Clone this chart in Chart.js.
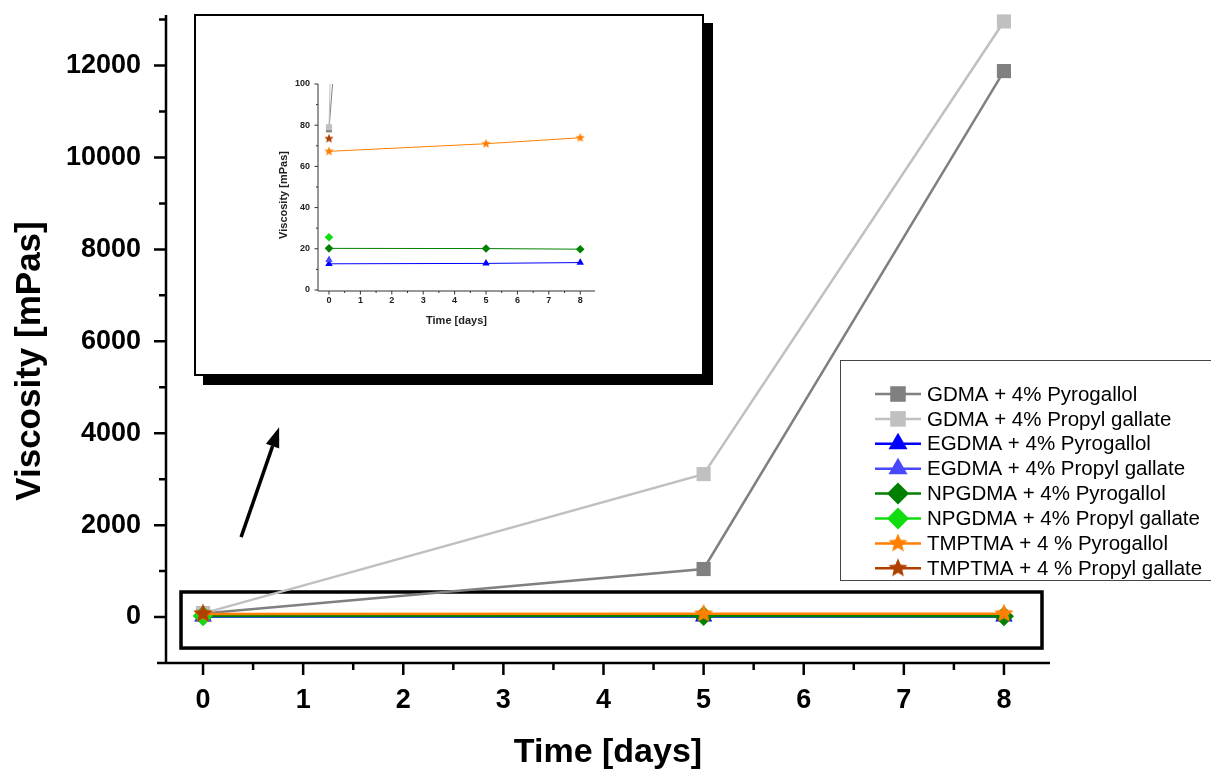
<!DOCTYPE html>
<html>
<head>
<meta charset="utf-8">
<script src="https://cdn.jsdelivr.net/npm/chart.js@4.4.0/dist/chart.umd.min.js"></script>
<style>
  html, body { margin: 0; padding: 0; background: #fff; }
  #wrap { position: relative; width: 1211px; height: 772px; overflow: hidden; }
  #main { position: absolute; left: 0; top: 0; }
  #insetBox { position: absolute; left: 194px; top: 14px; width: 510px; height: 362px;
    box-sizing: border-box; border: 2px solid #000; background: #fff; box-shadow: 9px 9px 0 #000; }
  #inset { display: block; }
</style>
</head>
<body>
<div id="wrap">
  <canvas id="main" width="1211" height="772"></canvas>
  <div id="insetBox"><canvas id="inset" width="506" height="358"></canvas></div>
</div>
<script>
// data
const days = [0, 5, 8]
const seriesNames = [
  'GDMA + 4% Pyrogallol',
  'GDMA + 4% Propyl gallate',
  'EGDMA + 4% Pyrogallol',
  'EGDMA + 4% Propyl gallate',
  'NPGDMA + 4% Pyrogallol',
  'NPGDMA + 4% Propyl gallate',
  'TMPTMA + 4 % Pyrogallol',
  'TMPTMA + 4 % Propyl gallate'
]
const gdmaPyrogallol = [78, 1045, 11880]
const gdmaPropylGallate = [79, 3110, 12960]
const egdmaPyrogallol = [12.7, 12.9, 13.3]
const egdmaPropylGallate = [14.6, null, null]
const npgdmaPyrogallol = [20.2, 20.1, 19.8]
const npgdmaPropylGallate = [25.6, null, null]
const tmptmaPyrogallol = [67.3, 71.0, 73.9]
const tmptmaPropylGallate = [73.5, null, null]
const allSeries = [gdmaPyrogallol, gdmaPropylGallate, egdmaPyrogallol, egdmaPropylGallate,
  npgdmaPyrogallol, npgdmaPropylGallate, tmptmaPyrogallol, tmptmaPropylGallate]

const xTicks = [0, 1, 2, 3, 4, 5, 6, 7, 8]
const xMinorTicks = [0.5, 1.5, 2.5, 3.5, 4.5, 5.5, 6.5, 7.5]
const mainYTicks = [0, 2000, 4000, 6000, 8000, 10000, 12000]
const mainYMinorTicks = [1000, 3000, 5000, 7000, 9000, 11000, 13000]
const insetYTicks = [0, 20, 40, 60, 80, 100]
const insetYMinorTicks = [10, 30, 50, 70, 90]

const colors = ['#808080', '#c0c0c0', '#0000ff', '#4848ff', '#008000', '#11dd11', '#ff8000', '#b04000']
const shapes = ['rect', 'rect', 'triangle', 'triangle', 'rectRot', 'rectRot', 'star', 'star']
const FONT = '"Liberation Sans", Arial, sans-serif'

function makeStar(r, color) {
  const c = document.createElement('canvas')
  const s = Math.ceil(r * 2 + 2)
  c.width = s; c.height = s
  const g = c.getContext('2d')
  g.fillStyle = color
  g.beginPath()
  for (let i = 0; i < 10; i++) {
    const a = -Math.PI / 2 + i * Math.PI / 5
    const rr = i % 2 ? r * 0.45 : r
    g.lineTo(s / 2 + rr * Math.cos(a), s / 2 + rr * Math.sin(a))
  }
  g.closePath()
  g.fill()
  return c
}

function pointStyleFor(i, r) {
  return shapes[i] === 'star' ? makeStar(r, colors[i]) : shapes[i]
}

function drawMarker(ctx, style, r, x, y, color) {
  ctx.fillStyle = color
  if (typeof style !== 'string') {
    ctx.drawImage(style, x - style.width / 2, y - style.height / 2)
    return
  }
  ctx.beginPath()
  if (style === 'rect') {
    const h = r * Math.SQRT1_2
    ctx.rect(x - h, y - h, 2 * h, 2 * h)
  } else if (style === 'triangle') {
    for (let k = 0; k < 3; k++) {
      const a = -Math.PI / 2 + k * 2 * Math.PI / 3
      ctx.lineTo(x + r * Math.cos(a), y + r * Math.sin(a))
    }
  } else {
    ctx.moveTo(x, y - r); ctx.lineTo(x + r, y); ctx.lineTo(x, y + r); ctx.lineTo(x - r, y)
  }
  ctx.closePath()
  ctx.fill()
}

function buildDatasets(lineWidth, radius, starR) {
  return allSeries.map((vals, i) => ({
    label: seriesNames[i],
    data: days.map((d, k) => ({ x: d, y: vals[k] })),
    borderColor: colors[i],
    backgroundColor: colors[i],
    borderWidth: lineWidth,
    pointStyle: pointStyleFor(i, starR),
    pointRadius: radius,
    pointBorderWidth: 0,
    pointBackgroundColor: colors[i],
    order: allSeries.length - i,
    tension: 0
  }))
}

// axis lines, major and minor ticks, and the rotated y title drawn by hand
const axisDecor = {
  id: 'axisDecor',
  afterDatasetsDraw(chart, args, o) {
    const { ctx, chartArea: a, scales: { x, y } } = chart
    ctx.save()
    ctx.strokeStyle = o.color
    ctx.lineWidth = o.lw
    ctx.beginPath()
    ctx.moveTo(a.left, a.top); ctx.lineTo(a.left, a.bottom)
    ctx.moveTo(a.left - o.xExt, a.bottom); ctx.lineTo(a.right, a.bottom)
    o.xMajor.forEach(v => { const p = x.getPixelForValue(v); ctx.moveTo(p, a.bottom); ctx.lineTo(p, a.bottom + o.major) })
    o.xMinor.forEach(v => { const p = x.getPixelForValue(v); ctx.moveTo(p, a.bottom); ctx.lineTo(p, a.bottom + o.minor) })
    o.yMajor.forEach(v => { const p = y.getPixelForValue(v); ctx.moveTo(a.left, p); ctx.lineTo(a.left - o.major, p) })
    o.yMinor.forEach(v => { const p = y.getPixelForValue(v); ctx.moveTo(a.left, p); ctx.lineTo(a.left - o.minor, p) })
    ctx.stroke()

    const t = o.yTitle
    ctx.translate(t.x, t.y)
    ctx.rotate(-Math.PI / 2)
    ctx.fillStyle = t.color
    ctx.font = 'bold ' + t.size + 'px ' + FONT
    ctx.textAlign = 'center'
    ctx.textBaseline = 'middle'
    ctx.fillText(t.text, 0, 0)
    ctx.restore()
  }
}

// zero-region box, arrow to the inset, and the boxed legend
const mainDecor = {
  id: 'mainDecor',
  beforeDatasetsDraw(chart) {
    const { ctx, scales: { x, y } } = chart
    ctx.save()
    ctx.strokeStyle = '#000'
    ctx.lineWidth = 3.5
    const l = x.getPixelForValue(-0.22), r = x.getPixelForValue(8.38)
    const t = y.getPixelForValue(545), b = y.getPixelForValue(-675)
    ctx.strokeRect(l, t, r - l, b - t)
    ctx.restore()
  },
  afterDraw(chart) {
    const { ctx, scales: { x, y } } = chart
    ctx.save()
    // arrow
    const x0 = x.getPixelForValue(0.38), y0 = y.getPixelForValue(1740)
    const x1 = x.getPixelForValue(0.76), y1 = y.getPixelForValue(4130)
    const ang = Math.atan2(y1 - y0, x1 - x0)
    const hl = 20, hw = 7
    const bx = x1 - hl * Math.cos(ang), by = y1 - hl * Math.sin(ang)
    ctx.strokeStyle = '#000'
    ctx.lineWidth = 3.5
    ctx.beginPath(); ctx.moveTo(x0, y0); ctx.lineTo(bx, by); ctx.stroke()
    ctx.fillStyle = '#000'
    ctx.beginPath()
    ctx.moveTo(x1, y1)
    ctx.lineTo(bx + hw * Math.sin(ang), by - hw * Math.cos(ang))
    ctx.lineTo(bx - hw * Math.sin(ang), by + hw * Math.cos(ang))
    ctx.closePath(); ctx.fill()

    // legend
    ctx.fillStyle = '#fff'
    ctx.fillRect(840, 360, 380, 220)
    ctx.strokeStyle = '#444'
    ctx.lineWidth = 1
    ctx.strokeRect(840.5, 360.5, 380, 220)
    ctx.font = '20.5px ' + FONT
    ctx.textBaseline = 'middle'
    chart.data.datasets.forEach((ds, i) => {
      const ly = 394 + i * 24.9
      ctx.strokeStyle = ds.borderColor
      ctx.lineWidth = 2.5
      ctx.beginPath(); ctx.moveTo(875, ly); ctx.lineTo(921, ly); ctx.stroke()
      drawMarker(ctx, ds.pointStyle, 11, 898, ly, ds.borderColor)
      ctx.fillStyle = '#000'
      ctx.fillText(ds.label, 927, ly + 1)
    })
    ctx.restore()
  }
}

function fixedTicks(arr) {
  return scale => { scale.ticks = arr.map(v => ({ value: v })) }
}

function fitTo(prop, size) {
  return s => {
    s[prop] = size
    s.paddingTop = 0; s.paddingBottom = 0; s.paddingLeft = 0; s.paddingRight = 0
  }
}

new Chart(document.getElementById('main'), {
  type: 'line',
  data: { datasets: buildDatasets(2.5, 10, 10).map(d => Object.assign(d, { clip: 14 })) },
  options: {
    responsive: false,
    animation: false,
    layout: { padding: { left: 0, top: 15, right: 161, bottom: 0 } },
    plugins: {
      legend: { display: false },
      tooltip: { enabled: false },
      axisDecor: { color: '#000', lw: 2.5, xExt: 9, major: 12, minor: 7,
        xMajor: xTicks, xMinor: xMinorTicks, yMajor: mainYTicks, yMinor: mainYMinorTicks,
        yTitle: { text: 'Viscosity [mPas]', x: 30, y: 361, size: 35, color: '#000' } }
    },
    scales: {
      x: {
        type: 'linear', min: -0.37, max: 8.46,
        afterBuildTicks: fixedTicks(xTicks),
        afterFit: fitTo('height', 109),
        grid: { display: false }, border: { display: false },
        ticks: { color: '#000', padding: 13, maxRotation: 0, font: { family: FONT, size: 27, weight: 'bold' } },
        title: { display: true, text: 'Time [days]', color: '#000', padding: { top: 0, bottom: -1 },
          font: { family: FONT, size: 34, weight: 'bold' } }
      },
      y: {
        type: 'linear', min: -1000, max: 13100,
        afterBuildTicks: fixedTicks(mainYTicks),
        afterFit: fitTo('width', 166),
        grid: { display: false }, border: { display: false },
        ticks: { color: '#000', padding: 17, callback: v => String(v), font: { family: FONT, size: 27, weight: 'bold' } }
      }
    }
  },
  plugins: [axisDecor, mainDecor]
})

new Chart(document.getElementById('inset'), {
  type: 'line',
  data: { datasets: buildDatasets(1, 4.3, 4.8) },
  options: {
    responsive: false,
    animation: false,
    layout: { padding: { left: 0, top: 68, right: 107, bottom: 0 } },
    plugins: {
      legend: { display: false },
      tooltip: { enabled: false },
      axisDecor: { color: '#333', lw: 1, xExt: 0, major: 3.5, minor: 2,
        xMajor: xTicks, xMinor: xMinorTicks, yMajor: insetYTicks, yMinor: insetYMinorTicks,
        yTitle: { text: 'Viscosity [mPas]', x: 88, y: 179, size: 11, color: '#222' } }
    },
    scales: {
      x: {
        type: 'linear', min: -0.35, max: 8.47,
        afterBuildTicks: fixedTicks(xTicks),
        afterFit: fitTo('height', 83),
        grid: { display: false }, border: { display: false },
        ticks: { color: '#222', padding: -4, maxRotation: 0, font: { family: FONT, size: 9, weight: 'bold' } },
        title: { display: true, text: 'Time [days]', color: '#222', padding: { top: 0, bottom: 46 },
          font: { family: FONT, size: 11, weight: 'bold' } }
      },
      y: {
        type: 'linear', min: -0.5, max: 100,
        afterBuildTicks: fixedTicks(insetYTicks),
        afterFit: fitTo('width', 122),
        grid: { display: false }, border: { display: false },
        ticks: { color: '#222', padding: 0, callback: v => String(v), font: { family: FONT, size: 9, weight: 'bold' } }
      }
    }
  },
  plugins: [axisDecor]
})
</script>
</body>
</html>
